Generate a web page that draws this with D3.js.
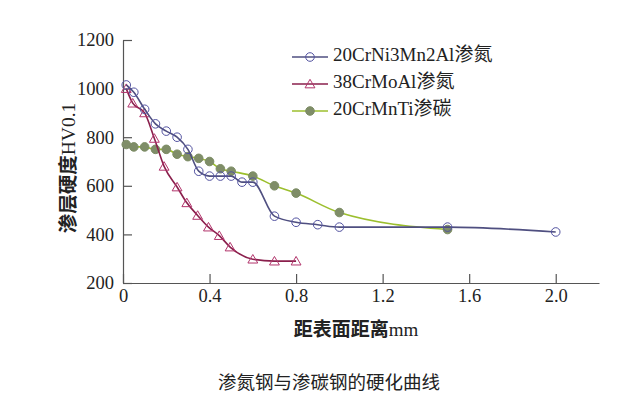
<!DOCTYPE html>
<html>
<head>
<meta charset="utf-8">
<script src="https://cdn.jsdelivr.net/npm/d3@7"></script>
<style>
	body { margin: 0; background: #fff; }
	text { font-family: "Liberation Serif", "Noto Sans CJK SC", serif; }
</style>
</head>
<body>
<div id="chart"></div>
<script>
// depth from surface (mm) and hardness HV0.1 for each steel
const niDepth = [0.015, 0.05, 0.1, 0.15, 0.2, 0.25, 0.3, 0.35, 0.4, 0.45, 0.5, 0.55, 0.6, 0.7, 0.8, 0.9, 1.0, 1.5, 2.0];
const niHard = [1015, 985, 915, 855, 825, 800, 750, 660, 640, 640, 640, 615, 615, 475, 450, 440, 430, 430, 410];

const moDepth = [0.015, 0.045, 0.1, 0.145, 0.19, 0.25, 0.295, 0.345, 0.395, 0.445, 0.495, 0.6, 0.7, 0.8];
const moHard = [1000, 940, 900, 795, 680, 595, 530, 478, 430, 395, 348, 298, 290, 290];

const tiDepth = [0.015, 0.05, 0.1, 0.15, 0.2, 0.25, 0.3, 0.35, 0.4, 0.45, 0.5, 0.6, 0.7, 0.8, 1.0, 1.5];
const tiHard = [770, 760, 760, 750, 750, 730, 720, 713, 700, 670, 660, 640, 600, 570, 490, 420];

const seriesNames = ["20CrNi3Mn2Al渗氮", "38CrMoAl渗氮", "20CrMnTi渗碳"];
const xTicks = [0, 0.4, 0.8, 1.2, 1.6, 2.0];
const yTicks = [200, 400, 600, 800, 1000, 1200];

const width = 630, height = 404;
const svg = d3.select("#chart").append("svg")
	.attr("width", width)
	.attr("height", height);

const x = d3.scaleLinear().domain([0, 2.2]).range([123, 599]);
const y = d3.scaleLinear().domain([200, 1200]).range([283, 40]);

// axes, ticks point inward
const axisColor = "#555";
const xAxis = svg.append("g")
	.attr("transform", `translate(0,${y(200)})`)
	.call(d3.axisBottom(x).tickValues(xTicks).tickSizeInner(-9).tickSizeOuter(0)
		.tickFormat(d => d === 0 ? "0" : d3.format(".1f")(d)));
xAxis.selectAll("text").attr("y", 6).attr("dy", "0.71em").style("font-size", "18.5px").attr("fill", "#222");

const yAxis = svg.append("g")
	.attr("transform", `translate(${x(0)},0)`)
	.call(d3.axisLeft(y).tickValues(yTicks).tickSizeInner(-9).tickSizeOuter(0).tickFormat(d3.format("d")));
yAxis.selectAll("text").attr("x", -9).style("font-size", "18.5px").attr("fill", "#222");

svg.selectAll(".domain, .tick line").attr("stroke", axisColor).attr("stroke-width", 1.2);

// axis titles: Chinese part bold, unit part regular
const xTitle = svg.append("text")
	.attr("x", 356).attr("y", 332)
	.attr("text-anchor", "middle").attr("dominant-baseline", "middle")
	.style("font-size", "19px").attr("fill", "#222");
xTitle.append("tspan").style("font-weight", "bold").text("距表面距离");
xTitle.append("tspan").text("mm");

const yTitle = svg.append("text")
	.attr("transform", "translate(71,168) rotate(-90)")
	.attr("text-anchor", "middle").attr("dominant-baseline", "middle")
	.style("font-size", "19.5px").attr("fill", "#222");
yTitle.append("tspan").style("font-weight", "bold").text("渗层硬度");
yTitle.append("tspan").text("HV0.1");

svg.append("text")
	.attr("x", 329).attr("y", 384)
	.attr("text-anchor", "middle").attr("dominant-baseline", "middle")
	.style("font-family", "'Noto Sans CJK SC', sans-serif")
	.style("font-size", "18.5px").attr("fill", "#222")
	.text("渗氮钢与渗碳钢的硬化曲线");

const line = d3.line().x(d => x(d[0])).y(d => y(d[1])).curve(d3.curveMonotoneX);
const tri = d3.symbol().type(d3.symbolTriangle).size(42);

const series = [
	{ name: seriesNames[0], pts: d3.zip(niDepth, niHard), line: "#4f4f80", mark: "circle", stroke: "#5252a0", fill: "none" },
	{ name: seriesNames[1], pts: d3.zip(moDepth, moHard), line: "#8a1f4c", mark: "triangle", stroke: "#b2356c", fill: "none" },
	{ name: seriesNames[2], pts: d3.zip(tiDepth, tiHard), line: "#9cbf2e", mark: "dot", stroke: "#7c8c64", fill: "#7f8d68" },
];

const drawMark = (g, s, cx, cy) => {
	if (s.mark === "triangle") {
		g.append("path").attr("d", tri).attr("transform", `translate(${cx},${cy + 1})`)
			.attr("fill", "#fff").attr("fill-opacity", 0).attr("stroke", s.stroke).attr("stroke-width", 1);
	} else {
		g.append("circle").attr("cx", cx).attr("cy", cy).attr("r", 4.3)
			.attr("fill", s.fill === "none" ? "#fff" : s.fill)
			.attr("fill-opacity", s.fill === "none" ? 0 : 1)
			.attr("stroke", s.stroke).attr("stroke-width", 1);
	}
};

// green first so that blue/red sit on top like the reference
[series[2], series[1], series[0]].forEach(s => {
	const g = svg.append("g");
	g.append("path").datum(s.pts).attr("d", line)
		.attr("fill", "none").attr("stroke", s.line).attr("stroke-width", 1.6);
	s.pts.forEach(p => drawMark(g, s, x(p[0]), y(p[1])));
});

// legend
const legend = svg.append("g");
series.forEach((s, i) => {
	const ly = 57 + i * 27;
	legend.append("line").attr("x1", 292).attr("x2", 328).attr("y1", ly).attr("y2", ly)
		.attr("stroke", s.line).attr("stroke-width", 1.6);
	drawMark(legend, s, 310, ly);
	legend.append("text").attr("x", 333).attr("y", ly).attr("dominant-baseline", "middle")
		.style("font-size", "19px").attr("fill", "#222").text(s.name);
});
</script>
</body>
</html>
